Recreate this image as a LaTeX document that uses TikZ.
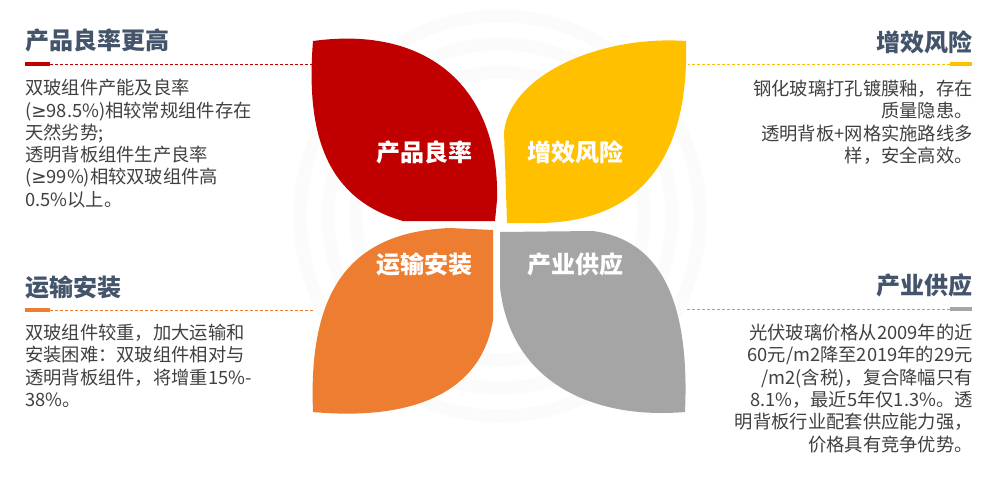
\documentclass[tikz,border=0pt]{standalone}
\usepackage{fontspec}
\setmainfont{Noto Sans CJK SC}
\newfontfamily\symfont{DejaVu Sans}
\definecolor{cred}{HTML}{C00000}
\definecolor{cyellow}{HTML}{FFC000}
\definecolor{corange}{HTML}{ED7D31}
\definecolor{cgray}{HTML}{A5A5A5}
\definecolor{headc}{HTML}{44546A}
\definecolor{bodyc}{HTML}{404040}
\definecolor{ringc}{HTML}{FBFBFB}
\begin{document}
\begin{tikzpicture}[x=1pt,y=-1pt,
  head/.style={inner sep=0pt,text=headc,font={\fontsize{24}{28}\selectfont\bfseries}},
  body/.style={inner sep=0pt,text=bodyc,font={\fontsize{18.3}{22.3}\selectfont}},
  plabel/.style={inner sep=0pt,text=white,font={\fontsize{24}{28}\selectfont\bfseries}},
  ring/.style={draw=ringc,line width=13pt},
  thickrule/.style={line width=4pt},
  dashrule/.style={line width=1pt,dash pattern=on 3pt off 2pt}]
\useasboundingbox (0,0) rectangle (985,483);
% faint background rings
\foreach \r in {200,172,144} \draw[ring] (500,216) circle[radius=\r];
% petals
\fill[cred] (313,41) .. controls (430,25) and (500,90) .. (497,200) -- (495,221) -- (403,221) .. controls (330,200) and (305,140) .. (313,41) -- cycle;
\fill[cyellow] (686,41) .. controls (600,35) and (510,75) .. (504,132) -- (507,223) -- (540,223) .. controls (620,222) and (690,180) .. (686,41) -- cycle;
\fill[corange] (493,230) -- (493,320) .. controls (480,400) and (400,420) .. (313,412) .. controls (308,290) and (350,232) .. (450,228) -- cycle;
\fill[cgray] (500,232) -- (593,231) .. controls (660,240) and (690,300) .. (685,412) .. controls (590,420) and (510,380) .. (500,287) -- cycle;
% petal labels
\node[plabel] (p1) at (424,152) {产品良率};
\node[plabel] (p2) at (575,152) {增效风险};
\node[plabel] (p3) at (424,264) {运输安装};
\node[plabel] (p4) at (575,264) {产业供应};
% rules
\coordinate (r1a) at (25,64); \coordinate (r1b) at (50,64); \coordinate (r1c) at (312,64);
\coordinate (r2a) at (972,64); \coordinate (r2b) at (950,64); \coordinate (r2c) at (688,64);
\coordinate (r3a) at (25,310); \coordinate (r3b) at (50,310); \coordinate (r3c) at (313,310);
\coordinate (r4a) at (972,309); \coordinate (r4b) at (950,309); \coordinate (r4c) at (687,309);
\draw[cred,dashrule] (r1b) -- (r1c); \draw[cred,thickrule] (r1a) -- (r1b);
\draw[cyellow,dashrule] (r2b) -- (r2c); \draw[cyellow,thickrule] (r2a) -- (r2b);
\draw[corange,dashrule] (r3b) -- (r3c); \draw[corange,thickrule] (r3a) -- (r3b);
\draw[cgray,dashrule] (r4b) -- (r4c); \draw[cgray,thickrule] (r4a) -- (r4b);
% headings
\node[head,anchor=west] (h1) at (25,40) {产品良率更高};
\node[head,anchor=east] (h2) at (973,42) {增效风险};
\node[head,anchor=west] (h3) at (25,287) {运输安装};
\node[head,anchor=east] (h4) at (973,285) {产业供应};
% bodies
\node[body,anchor=north west,align=left] (b1) at (25,79) {双玻组件产能及良率\\({\symfont ≥}98.5\%)相较常规组件存在\\天然劣势;\\透明背板组件生产良率\\({\symfont ≥}99\%)相较双玻组件高\\0.5\%以上。};
\node[body,anchor=north east,align=right] (b2) at (973,80) {钢化玻璃打孔镀膜釉，存在\\质量隐患。\\透明背板+网格实施路线多\\样，安全高效。};
\node[body,anchor=north west,align=left] (b3) at (25,324) {双玻组件较重，加大运输和\\安装困难：双玻组件相对与\\透明背板组件，将增重15\%-\\38\%。};
\node[body,anchor=north east,align=right] (b4) at (973,324) {光伏玻璃价格从2009年的近\\60元/m2降至2019年的29元\\/m2(含税)，复合降幅只有\\8.1\%，最近5年仅1.3\%。透\\明背板行业配套供应能力强，\\价格具有竞争优势。};
\end{tikzpicture}
\end{document}
